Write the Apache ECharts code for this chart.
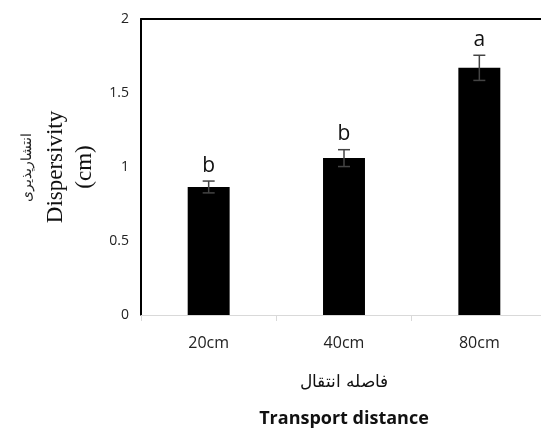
<!DOCTYPE html>
<html><head><meta charset="utf-8">
<script src="https://cdn.jsdelivr.net/npm/echarts@6/dist/echarts.min.js"></script>
<style>html,body{margin:0;padding:0;background:#fff}#c{width:541px;height:428px}</style>
</head><body><div id="c"></div>
<script>
const categories = ['20cm', '40cm', '80cm'];
const means = [0.865, 1.06, 1.67];
const errors = [0.04, 0.057, 0.085];
const letters = ['b', 'b', 'a'];
const yTicks = [0, 0.5, 1, 1.5, 2];

const chart = echarts.init(document.getElementById('c'));
chart.setOption({
  animation: false,
  grid: { left: 141, top: 19, width: 406, height: 296, outerBoundsMode: 'none', containLabel: false },
  xAxis: [{
    type: 'category', data: categories,
    axisLine: { lineStyle: { color: '#d9d9d9', width: 1 } },
    axisTick: { show: true, length: 6, lineStyle: { color: '#d9d9d9' } },
    axisLabel: { fontFamily: 'Open Sans', fontSize: 16, color: '#222', margin: 20 },
    name: '{fa|فاصله انتقال}\n{en|Transport distance}',
    nameLocation: 'middle', nameGap: 50,
    nameTextStyle: {
      rich: {
        fa: { fontFamily: 'DejaVu Serif', fontSize: 17, color: '#111', lineHeight: 36 },
        en: { fontFamily: 'Open Sans', fontWeight: 'bold', fontSize: 18, color: '#111', lineHeight: 36 }
      }
    }
  }, {
    type: 'category', data: categories, position: 'top',
    axisLine: { show: true, lineStyle: { color: '#000', width: 2 } },
    axisTick: { show: false }, axisLabel: { show: false }
  }],
  yAxis: {
    type: 'value', min: 0, max: 2, interval: 0.5,
    splitLine: { show: false },
    axisLine: { show: true, lineStyle: { color: '#000', width: 2 } },
    axisTick: { show: false },
    axisLabel: { fontFamily: 'Open Sans', fontSize: 14, color: '#222', margin: 12,
      formatter: v => yTicks.includes(v) ? String(v) : '' },
    name: '{fa|انتشارپذیری}\n{en|Dispersivity}\n{en|(cm)}',
    nameLocation: 'middle', nameRotate: 90, nameGap: 42,
    nameTextStyle: {
      rich: {
        fa: { fontFamily: 'DejaVu Serif', fontSize: 14, color: '#222', lineHeight: 28 },
        en: { fontFamily: 'Liberation Serif', fontSize: 23, color: '#111', lineHeight: 29 }
      }
    }
  },
  series: [{
    type: 'bar', data: means, barWidth: '31%',
    itemStyle: { color: '#000' }
  }, {
    type: 'custom',
    data: means.map((m, i) => [i, m - errors[i], m + errors[i]]),
    renderItem: function (params, api) {
      const i = api.value(0);
      const lo = api.coord([i, api.value(1)]);
      const hi = api.coord([i, api.value(2)]);
      const hw = 6;
      const st = { stroke: '#444', lineWidth: 1.5 };
      return { type: 'group', children: [
        { type: 'line', shape: { x1: lo[0], y1: lo[1], x2: hi[0], y2: hi[1] }, style: st },
        { type: 'line', shape: { x1: lo[0]-hw, y1: lo[1], x2: lo[0]+hw, y2: lo[1] }, style: st },
        { type: 'line', shape: { x1: hi[0]-hw, y1: hi[1], x2: hi[0]+hw, y2: hi[1] }, style: st },
        { type: 'text', x: hi[0], y: hi[1] - 5, style: { text: letters[params.dataIndex],
          fontFamily: 'Open Sans', fontSize: 21, fill: '#111', align: 'center', verticalAlign: 'bottom' } }
      ]};
    },
    z: 5
  }]
});
</script></body></html>
